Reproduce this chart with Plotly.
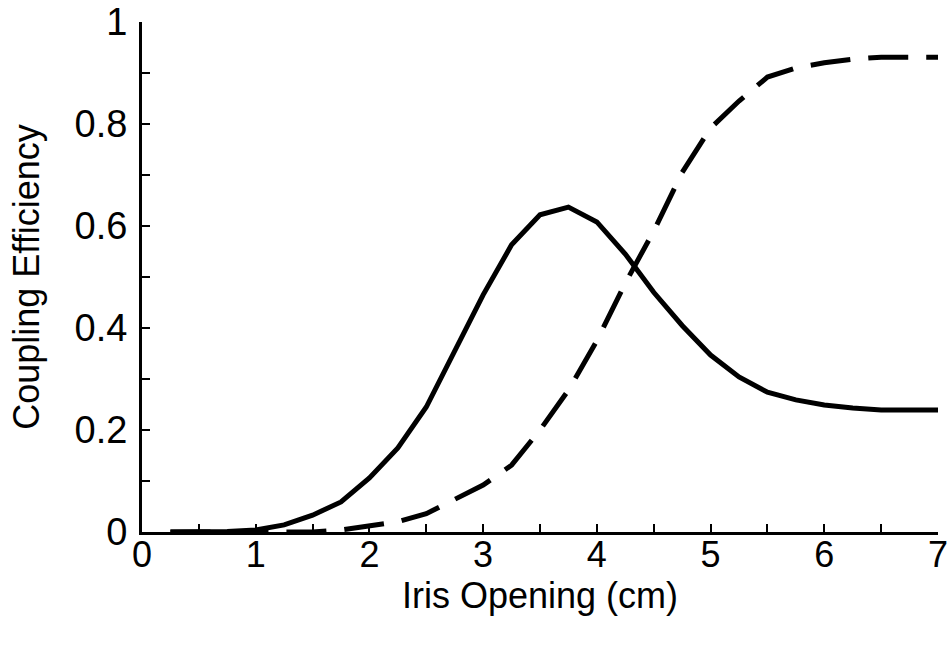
import plotly.graph_objects as go

x_solid = [0.25, 0.5, 0.75, 1.0, 1.25, 1.5, 1.75, 2.0, 2.25, 2.5, 2.75, 3.0, 3.25, 3.5,
           3.75, 4.0, 4.25, 4.5, 4.75, 5.0, 5.25, 5.5, 5.75, 6.0, 6.25, 6.5, 7.0]
y_solid = [0.0, 0.0, 0.001, 0.004, 0.014, 0.033, 0.059, 0.106, 0.165, 0.245, 0.355, 0.465,
           0.563, 0.622, 0.637, 0.608, 0.545, 0.47, 0.405, 0.347, 0.304, 0.274, 0.259,
           0.249, 0.243, 0.239, 0.239]

x_dashed = [0.25, 0.5, 0.75, 1.0, 1.25, 1.5, 1.75, 2.0, 2.25, 2.5, 2.75, 3.0, 3.25, 3.5,
            3.75, 4.0, 4.25, 4.5, 4.75, 5.0, 5.25, 5.5, 5.75, 6.0, 6.25, 6.5, 7.0]
y_dashed = [0.0, 0.0, 0.0, 0.0, 0.0, 0.0, 0.004, 0.012, 0.02, 0.036, 0.065, 0.092, 0.131,
            0.2, 0.278, 0.375, 0.488, 0.59, 0.705, 0.792, 0.845, 0.892, 0.91, 0.92, 0.927,
            0.931, 0.931]

x_ticks = [0, 1, 2, 3, 4, 5, 6, 7]
y_ticks = [0, 0.2, 0.4, 0.6, 0.8, 1]
y_tick_labels = ["0", "0.2", "0.4", "0.6", "0.8", "1"]

FONT = "Liberation Sans, Arial, Helvetica, sans-serif"
FS = 36

fig = go.Figure()
fig.add_trace(go.Scatter(x=x_solid, y=y_solid, mode="lines",
                         line=dict(color="black", width=5), showlegend=False))
fig.add_trace(go.Scatter(x=x_dashed, y=y_dashed, mode="lines",
                         line=dict(color="black", width=5, dash="40px,18px"),
                         showlegend=False))

fig.update_layout(
    width=948, height=647,
    margin=dict(l=142, r=10, t=22, b=115, autoexpand=False),
    paper_bgcolor="white", plot_bgcolor="white",
    font=dict(family=FONT, color="black", size=FS),
    xaxis=dict(
        range=[0, 7], tickvals=x_ticks, ticktext=[str(v) for v in x_ticks],
        ticks="inside", ticklen=8, tickwidth=2, tickcolor="black",
        minor=dict(dtick=0.5, tick0=0, ticks="inside", ticklen=8, tickwidth=2, tickcolor="black"),
        showline=True, linecolor="black", linewidth=3, showgrid=False, zeroline=False,
        tickfont=dict(size=FS), ticklabelstandoff=-11, ticklabeloverflow="allow",
        automargin=False,
        title=dict(text="Iris Opening (cm)", font=dict(size=FS), standoff=9),
    ),
    yaxis=dict(
        range=[0, 1], tickvals=y_ticks, ticktext=y_tick_labels,
        ticks="inside", ticklen=8, tickwidth=2, tickcolor="black",
        minor=dict(dtick=0.1, tick0=0, ticks="inside", ticklen=8, tickwidth=2, tickcolor="black"),
        showline=True, linecolor="black", linewidth=3, showgrid=False, zeroline=False,
        tickfont=dict(size=38), ticklabelstandoff=4, ticklabeloverflow="allow",
        automargin=False,
        title=dict(text="Coupling Efficiency", font=dict(size=FS), standoff=24),
    ),
)

fig.write_html(
    "out.html",
    config={"displayModeBar": False},
    post_script="document.body.style.margin='0';document.body.style.overflow='hidden';",
)
